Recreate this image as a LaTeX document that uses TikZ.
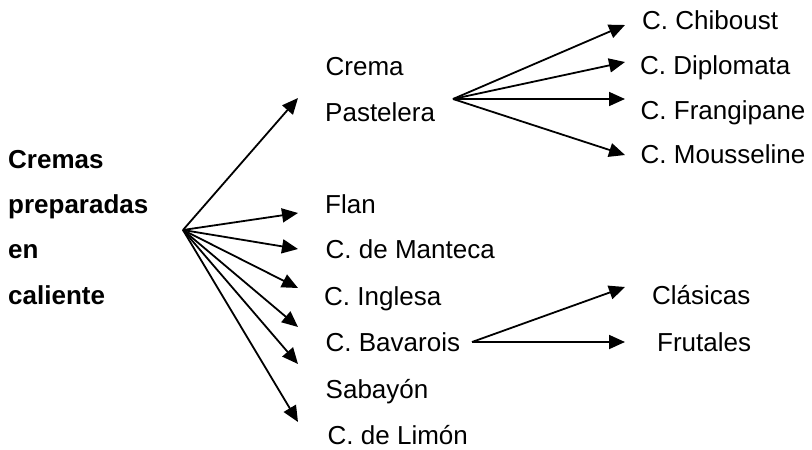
\documentclass[tikz,border=0pt]{standalone}
\usepackage{fontspec}
\setmainfont{Liberation Sans}
\usetikzlibrary{arrows.meta}

\begin{document}
\begin{tikzpicture}[x=1pt,y=-1pt,
   every node/.style={anchor=base west,inner sep=0pt,font=\fontsize{26}{30}\selectfont},
   head/.style={font=\fontsize{26}{30}\selectfont\bfseries},
   arr/.style={line width=1.8pt,-{Triangle[length=16pt,width=14pt]}}]
\useasboundingbox (0,0) rectangle (812,450);
% title
\node[head] (cremas) at (8,168) {Cremas};
\node[head] (preparadas) at (8,213) {preparadas};
\node[head] (en) at (8,258.5) {en};
\node[head] (caliente) at (8,304) {caliente};
% first level
\node (crema) at (325.5,75) {Crema};
\node (pastelera) at (325,121) {Pastelera};
\node (flan) at (325,213) {Flan};
\node (manteca) at (325.5,258) {C. de Manteca};
\node (inglesa) at (324,305) {C. Inglesa};
\node (bavarois) at (325.5,351) {C. Bavarois};
\node (sabayon) at (325.5,398) {Sabay\'on};
\node (limon) at (327.5,444) {C. de Lim\'on};
% second level
\node (chiboust) at (642,29) {C. Chiboust};
\node (diplomata) at (640,74) {C. Diplomata};
\node (frangipane) at (640.5,119) {C. Frangipane};
\node (mousseline) at (640.5,163) {C. Mousseline};
\node (clasicas) at (652,304) {Cl\'asicas};
\node (frutales) at (657,351) {Frutales};
% arrows
\coordinate (f0) at (183,230);
\foreach \y [count=\i] in {98,213,249,288,327,364,422}
   {\coordinate (t\i) at (298,\y);
    \draw[arr] (f0) -- (t\i);}
\coordinate (p0) at (453,99);
\foreach \y [count=\i] in {25,62,99,155}
   {\coordinate (pt\i) at (625,\y);
    \draw[arr] (p0) -- (pt\i);}
\coordinate (b0) at (472,342);
\foreach \y [count=\i] in {287,342}
   {\coordinate (bt\i) at (625,\y);
    \draw[arr] (b0) -- (bt\i);}
\end{tikzpicture}
\end{document}
